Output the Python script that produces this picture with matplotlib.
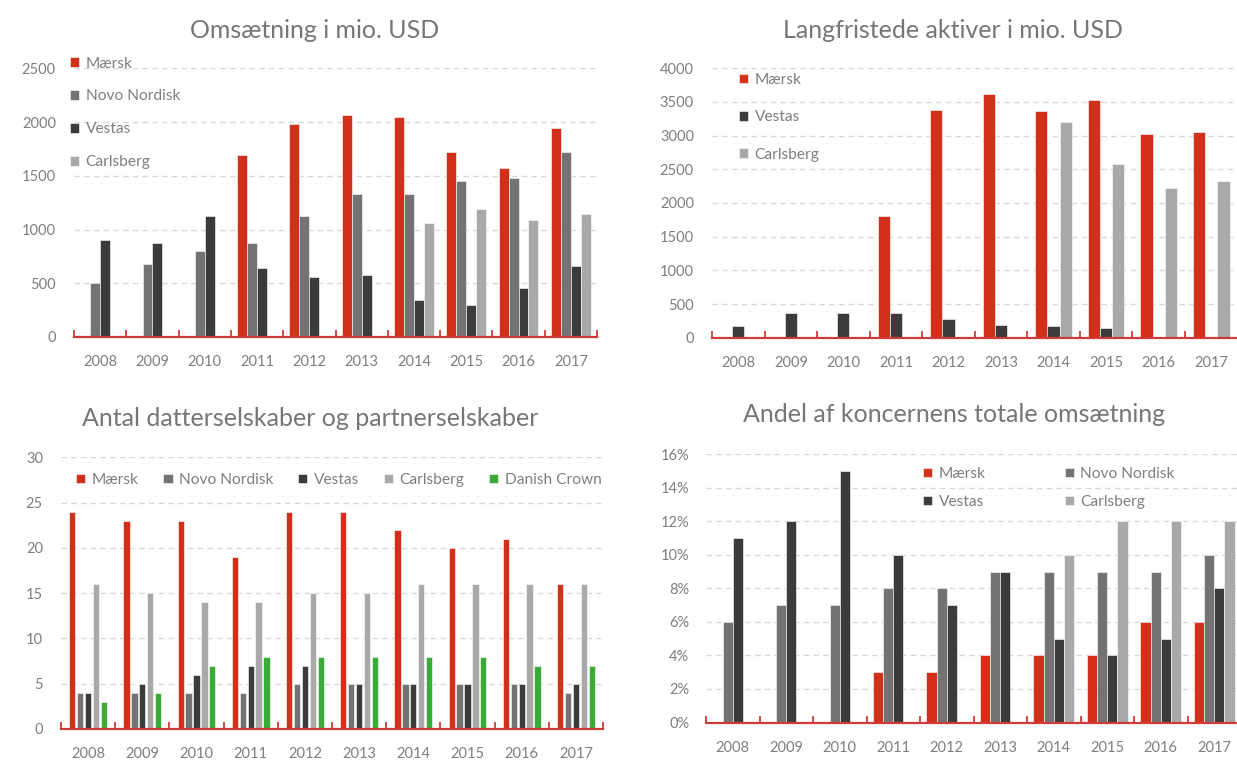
import matplotlib
matplotlib.use("Agg")
import matplotlib.pyplot as plt
import numpy as np
from matplotlib.ticker import FixedLocator, FuncFormatter

plt.rcParams['font.family'] = ['Lato', 'DejaVu Sans']

W, H = 1237, 760
years = ['2008', '2009', '2010', '2011', '2012', '2013', '2014', '2015', '2016', '2017']

# Panel 1: Omsætning i mio. USD
oms_maersk = [0, 0, 0, 1690, 1980, 2070, 2045, 1720, 1570, 1940]
oms_novo = [500, 680, 800, 870, 1130, 1330, 1330, 1450, 1480, 1720]
oms_vestas = [900, 870, 1130, 640, 560, 580, 340, 300, 460, 660]
oms_carlsberg = [0, 0, 0, 0, 0, 0, 1060, 1190, 1085, 1140]

# Panel 2: Langfristede aktiver i mio. USD
lang_maersk = [0, 0, 0, 1800, 3380, 3620, 3360, 3530, 3030, 3050]
lang_vestas = [170, 365, 365, 365, 280, 190, 170, 150, 0, 0]
lang_carlsberg = [0, 0, 0, 0, 0, 0, 3200, 2580, 2230, 2320]

# Panel 3: Antal datterselskaber og partnerselskaber
ant_maersk = [24, 23, 23, 19, 24, 24, 22, 20, 21, 16]
ant_novo = [4, 4, 4, 4, 5, 5, 5, 5, 5, 4]
ant_vestas = [4, 5, 6, 7, 7, 5, 5, 5, 5, 5]
ant_carlsberg = [16, 15, 14, 14, 15, 15, 16, 16, 16, 16]
ant_dc = [3, 4, 7, 8, 8, 8, 8, 8, 7, 7]

# Panel 4: Andel af koncernens totale omsætning (%)
and_maersk = [0, 0, 0, 3, 3, 4, 4, 4, 6, 6]
and_novo = [6, 7, 7, 8, 8, 9, 9, 9, 9, 10]
and_vestas = [11, 12, 15, 10, 7, 9, 5, 4, 5, 8]
and_carlsberg = [0, 0, 0, 0, 0, 0, 10, 12, 12, 12]

C_M = '#D1311B'
C_N = '#737373'
C_V = '#3B3B3B'
C_C = '#A9A9A9'
C_D = '#3AAB37'
AX_RED = '#CF3A3A'
TXT = '#7F7F7F'
TITLE = '#767676'
GRID = '#D9D9D9'
FS = 10.5
LFS = 11.2
TFS = 18

fig = plt.figure(figsize=(W / 100, H / 100), dpi=100)


def make_ax(left, right, top, bottom):
    return fig.add_axes([left / W, 1 - bottom / H, (right - left) / W, (bottom - top) / H])


def style(ax, ymax, step, fmt=None, ypad=13):
    n = len(years)
    ax.set_xlim(-0.5, n - 0.5)
    ax.set_ylim(0, ymax)
    for s in ['top', 'right', 'left']:
        ax.spines[s].set_visible(False)
    ax.spines['bottom'].set_color(AX_RED)
    ax.spines['bottom'].set_linewidth(1.6)
    ax.spines['bottom'].set_zorder(5)
    ax.set_xticks(np.arange(n))
    ax.set_xticklabels(years)
    ax.xaxis.set_minor_locator(FixedLocator(np.arange(-0.5, n, 1.0)))
    ax.tick_params(axis='x', which='major', length=0, pad=13, labelsize=FS, labelcolor=TXT)
    ax.tick_params(axis='x', which='minor', length=5, width=1.3, color=AX_RED, direction='in')
    yt = np.arange(0, ymax + step / 2, step)
    ax.set_yticks(yt)
    if fmt:
        ax.yaxis.set_major_formatter(FuncFormatter(fmt))
    ax.tick_params(axis='y', length=0, pad=ypad, labelsize=FS, labelcolor=TXT)
    ax.yaxis.grid(True, color=GRID, linestyle=(0, (4, 3)), linewidth=1.0)
    ax.set_axisbelow(True)


def bars(ax, series, colors, labels, slot, width):
    x = np.arange(len(years))
    k = len(series)
    handles = []
    for i, (vals, c, lab) in enumerate(zip(series, colors, labels)):
        off = (i - (k - 1) / 2) * slot
        h = ax.bar(x + off, vals, width=width, color=c, label=lab,
                   edgecolor='white', linewidth=0.4, zorder=3)
        handles.append(h)
    return handles


LEG = dict(bbox_transform=fig.transFigure, frameon=False, fontsize=LFS, labelcolor=TXT,
           handlelength=0.6, handleheight=0.6, handletextpad=0.4,
           borderpad=0, borderaxespad=0, loc='upper left')

# ---------- Panel 1 ----------
ax1 = make_ax(74, 597, 68.3, 337)
style(ax1, 2500, 500)
h1 = bars(ax1, [oms_maersk, oms_novo, oms_vestas, oms_carlsberg], [C_M, C_N, C_V, C_C],
          ['Mærsk', 'Novo Nordisk', 'Vestas', 'Carlsberg'], 0.19, 0.19)
ax1.legend(handles=h1, bbox_to_anchor=(70 / W, 1 - 56.5 / H), labelspacing=1.22, **LEG)
fig.text(315 / W, 1 - 30 / H, 'Omsætning i mio. USD', ha='center', va='center',
         fontsize=TFS, color=TITLE)

# ---------- Panel 2 ----------
ax2 = make_ax(712, 1237.5, 68.3, 337.7)
style(ax2, 4000, 500)
h2 = bars(ax2, [lang_maersk, lang_vestas, lang_carlsberg], [C_M, C_V, C_C],
          ['Mærsk', 'Vestas', 'Carlsberg'], 0.233, 0.233)
ax2.legend(handles=h2, bbox_to_anchor=(739 / W, 1 - 73 / H), labelspacing=1.5, **LEG)
fig.text(953 / W, 1 - 30 / H, 'Langfristede aktiver i mio. USD', ha='center', va='center',
         fontsize=TFS, color=TITLE)

# ---------- Panel 3 ----------
ax3 = make_ax(61, 603, 457.3, 729)
style(ax3, 30, 5)
h3 = bars(ax3, [ant_maersk, ant_novo, ant_vestas, ant_carlsberg, ant_dc],
          [C_M, C_N, C_V, C_C, C_D],
          ['Mærsk', 'Novo Nordisk', 'Vestas', 'Carlsberg', 'Danish Crown'], 0.146, 0.115)
ax3.legend(handles=h3, bbox_to_anchor=(76 / W, 1 - 473 / H), ncol=5,
           columnspacing=1.6, **LEG)
fig.text(310 / W, 1 - 418 / H, 'Antal datterselskaber og partnerselskaber', ha='center',
         va='center', fontsize=TFS, color=TITLE)

# ---------- Panel 4 ----------
ax4 = make_ax(706, 1241, 454.3, 722.5)
style(ax4, 16, 2, fmt=lambda v, p: f'{int(v)}%', ypad=12)
h4 = bars(ax4, [and_maersk, and_novo, and_vestas, and_carlsberg], [C_M, C_N, C_V, C_C],
          ['Mærsk', 'Novo Nordisk', 'Vestas', 'Carlsberg'], 0.19, 0.19)
order = [h4[0], h4[2], h4[1], h4[3]]
ax4.legend(handles=order, bbox_to_anchor=(923 / W, 1 - 467 / H), ncol=2,
           labelspacing=0.9, columnspacing=5.1, **LEG)
fig.text(954 / W, 1 - 415 / H, 'Andel af koncernens totale omsætning', ha='center',
         va='center', fontsize=TFS, color=TITLE)

fig.savefig('out.png', dpi=100)
